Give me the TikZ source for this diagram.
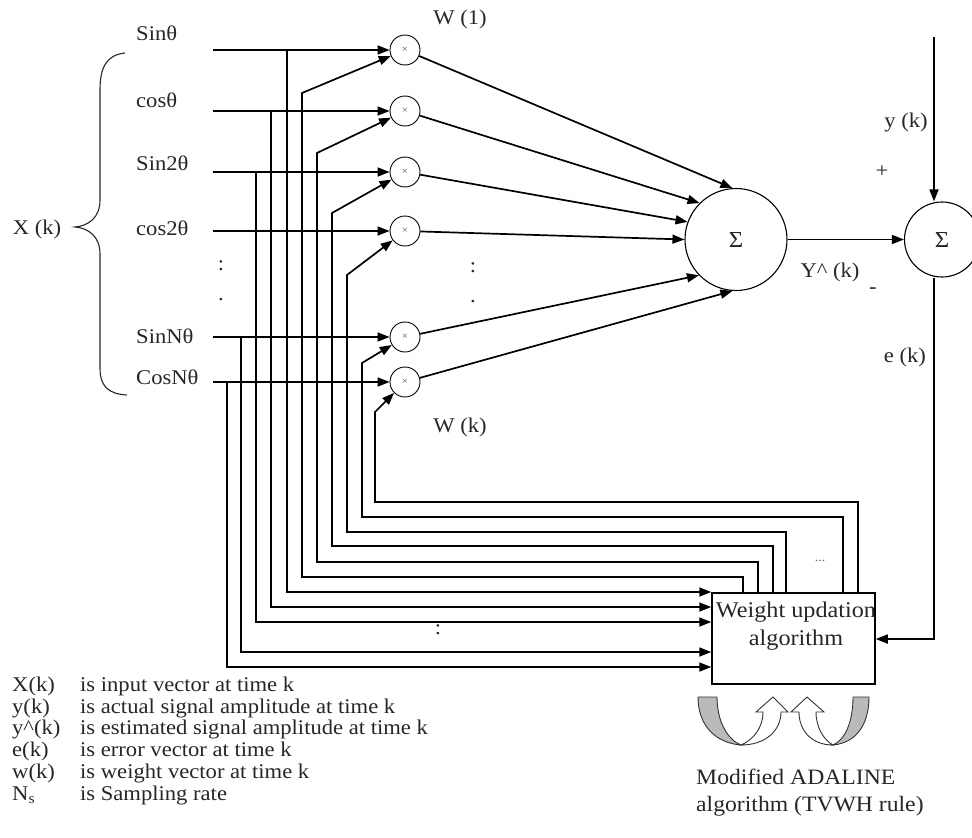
\documentclass[tikz,border=0pt]{standalone}
\usepackage{fontspec}
\setmainfont{Liberation Serif}[FakeStretch=1.08]
\usetikzlibrary{arrows.meta}
\begin{document}
\begin{tikzpicture}[x=1bp,y=-1bp,
  lbl/.style={inner sep=0pt, text=black!85, font=\fontsize{21}{23}\selectfont},
  wire/.style={line width=1.7bp},
  arr/.style={wire,-{Triangle[length=12bp,width=9bp]}},
  mult/.style={circle,draw,line width=0.9bp,minimum size=30bp,inner sep=0pt,text=black!70,font=\fontsize{10}{10}\selectfont},
  sumc/.style={circle,draw,line width=1.1bp,inner sep=0pt,text=black!85,font=\fontsize{23}{24}\selectfont},
  greyband/.style={fill=black!27,draw=black!80,line width=0.9bp},
  whiteband/.style={fill=white,draw=black!80,line width=0.9bp}]
\useasboundingbox (0,0) rectangle (972,838);

% multipliers
\node[mult] (m1) at (405,50) {×};
\node[mult] (m2) at (405,111) {×};
\node[mult] (m3) at (405,172) {×};
\node[mult] (m4) at (405,231) {×};
\node[mult] (m5) at (405,337) {×};
\node[mult] (m6) at (405,382) {×};

% summers
\node[sumc,minimum size=102bp] (s1) at (736,239.5) {Σ};
\node[sumc,minimum size=75bp] (s2) at (942,239.5) {Σ};

% weight update box
\node[draw,line width=1.5bp,minimum width=163bp,minimum height=91bp,inner sep=0pt] (box) at (793.5,638.5) {};
\node[lbl,align=center,font=\fontsize{22.5}{28}\selectfont] (boxtxt) at (796,626) {Weight updation\\algorithm};

% input labels
\node[lbl,anchor=west] (l1) at (136,33) {Sinθ};
\node[lbl,anchor=west] (l2) at (136,100) {cosθ};
\node[lbl,anchor=west] (l3) at (136,163) {Sin2θ};
\node[lbl,anchor=west] (l4) at (136,228) {cos2θ};
\node[lbl] (ld1) at (221,266) {:};
\node[lbl] (ld2) at (221,300) {.};
\node[lbl,anchor=west] (l5) at (136,336) {SinNθ};
\node[lbl,anchor=west] (l6) at (136,377) {CosNθ};
\node[lbl] (xk) at (37,229) {X (k)};

% brace
\draw[line width=1.1bp,black!85] (125,53) .. controls (106,55) and (100,68) .. (100,90) -- (100,200)
  .. controls (100,218) and (88,226) .. (75,227) .. controls (88,228) and (100,236) .. (100,254)
  -- (100,368) .. controls (100,386) and (108,394) .. (127,395);

% input line starts
\coordinate (i1) at (213,50);
\coordinate (i2) at (213,111);
\coordinate (i3) at (213,172);
\coordinate (i4) at (213,231);
\coordinate (i5) at (213,337);
\coordinate (i6) at (213,382);
\draw[arr] (i1) -- (m1);
\draw[arr] (i2) -- (m2);
\draw[arr] (i3) -- (m3);
\draw[arr] (i4) -- (m4);
\draw[arr] (i5) -- (m5);
\draw[arr] (i6) -- (m6);

% taps from inputs to the weight box
\coordinate (t1) at (287,50);  \coordinate (r1) at (287,592);
\coordinate (t2) at (271,111); \coordinate (r2) at (271,607);
\coordinate (t3) at (256,172); \coordinate (r3) at (256,622);
\coordinate (t5) at (241,337); \coordinate (r5) at (241,652);
\coordinate (t6) at (227,382); \coordinate (r6) at (227,667);
\draw[arr] (t1) -- (r1) -- (box.west |- r1);
\draw[arr] (t2) -- (r2) -- (box.west |- r2);
\draw[arr] (t3) -- (r3) -- (box.west |- r3);
\draw[arr] (t5) -- (r5) -- (box.west |- r5);
\draw[arr] (t6) -- (r6) -- (box.west |- r6);
\node[lbl] (bd) at (438,630) {:};

% weight feedback lines
\coordinate (c1) at (743,577); \coordinate (d1) at (302,93);
\coordinate (c2) at (758,562); \coordinate (d2) at (317,153);
\coordinate (c3) at (773,546); \coordinate (d3) at (332,213);
\coordinate (c4) at (786,532); \coordinate (d4) at (347,275);
\coordinate (c5) at (843,517); \coordinate (d5) at (362,363);
\coordinate (c6) at (858,502); \coordinate (d6) at (375,412);
\draw[arr] (box.north -| c1) -- (c1) -| (d1) -- (m1);
\draw[arr] (box.north -| c2) -- (c2) -| (d2) -- (m2);
\draw[arr] (box.north -| c3) -- (c3) -| (d3) -- (m3);
\draw[arr] (box.north -| c4) -- (c4) -| (d4) -- (m4);
\draw[arr] (box.north -| c5) -- (c5) -| (d5) -- (m5);
\draw[arr] (box.north -| c6) -- (c6) -| (d6) -- (m6);
\node[lbl,font=\fontsize{13}{14}\selectfont,text=black!60] (fdots) at (820,561) {...};

% products to summer
\draw[arr] (m1) -- (s1.94);
\draw[arr] (m2) -- (s1.135);
\draw[arr] (m3) -- (s1.160);
\draw[arr] (m4) -- (s1.180);
\draw[arr] (m5) -- (s1.224);
\draw[arr] (m6) -- (s1.266);
\node[lbl] (md1) at (473,268) {:};
\node[lbl] (md2) at (473,302) {.};
\node[lbl] (w1) at (460,19) {W (1)};
\node[lbl] (wk) at (460,427) {W (k)};

% output and error
\draw[arr] (s1) -- (s2);
\coordinate (ytop) at (934,37);
\draw[arr] (ytop) -- (ytop |- s2.north);
\coordinate (ecorner) at (934,639);
\draw[arr] (ecorner |- s2.south) -- (ecorner) -- (box.east |- ecorner);
\node[lbl] (yk) at (906,122) {y (k)};
\node[lbl] (plus) at (882,172) {+};
\node[lbl] (yhat) at (830,272) {Y\textasciicircum{} (k)};
\node[lbl] (minus) at (873,291) {-};
\node[lbl] (ek) at (905,357) {e (k)};

% curved arrows below the box
\draw[greyband] (698,697) -- (717,697) .. controls (717,722) and (728,740) .. (741,745)
  .. controls (716,743) and (698,726) .. (698,697) -- cycle;
\draw[whiteband] (741,745) .. controls (765,745) and (781,731) .. (781,712) -- (788,712) -- (773,697)
  -- (756,712) -- (763,712) .. controls (763,728) and (753,740) .. (741,745) -- cycle;
\draw[greyband] (869,697) -- (853,697) .. controls (853,722) and (845,740) .. (833,745)
  .. controls (855,743) and (869,726) .. (869,697) -- cycle;
\draw[whiteband] (833,745) .. controls (812,745) and (799,731) .. (799,712) -- (791,712) -- (807,697)
  -- (824,712) -- (816,712) .. controls (816,728) and (824,740) .. (833,745) -- cycle;
\node[lbl,anchor=west,align=left,font=\fontsize{22}{27}\selectfont] (adal) at (696,793) {Modified ADALINE\\algorithm (TVWH rule)};

% legend
\node[lbl,anchor=north west,font=\fontsize{21}{21.8}\selectfont] (legend) at (12,676)
{\begin{tabular}{@{}p{68bp}@{}l@{}}
X(k) & is input vector at time k\\
y(k) & is actual signal amplitude at time k\\
y\textasciicircum(k) & is estimated signal amplitude at time k\\
e(k) & is error vector at time k\\
w(k) & is weight vector at time k\\
N\textsubscript{s} & is Sampling rate
\end{tabular}};
\end{tikzpicture}
\end{document}
